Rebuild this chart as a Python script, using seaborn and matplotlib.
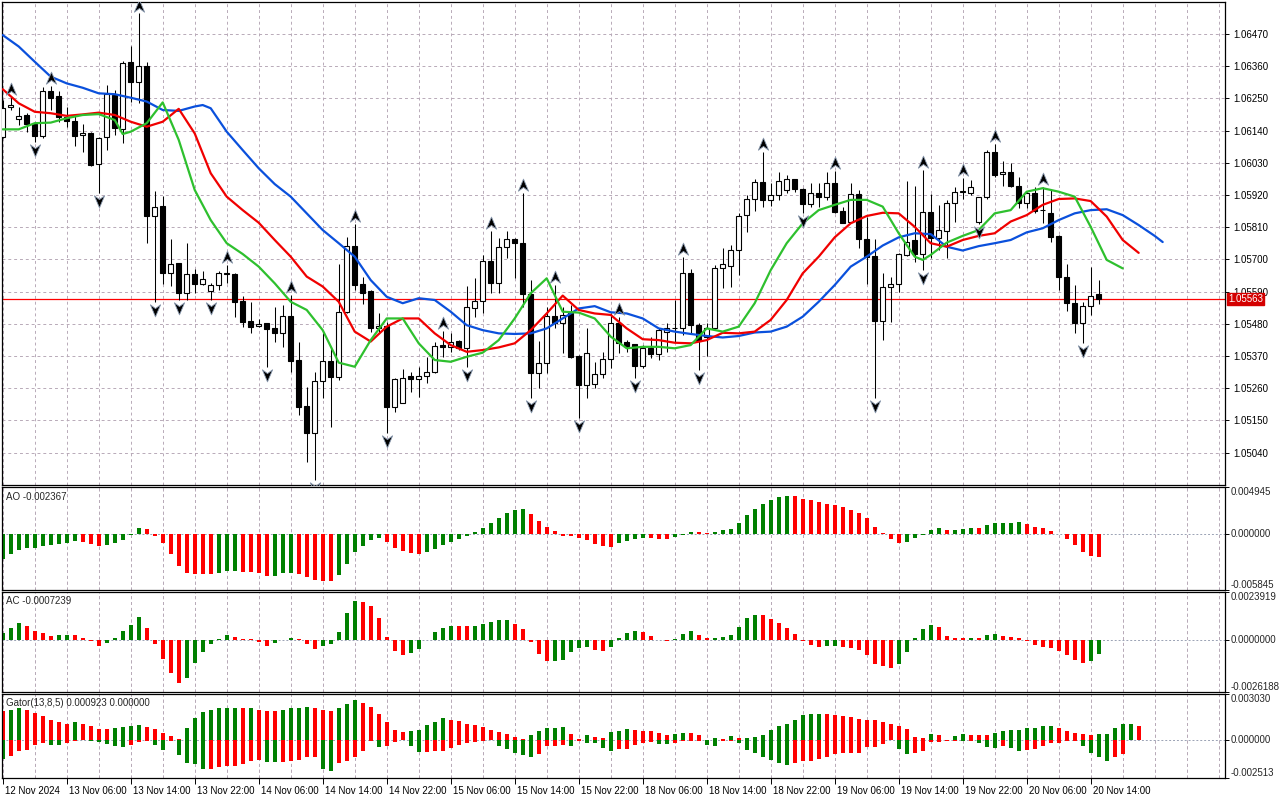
import numpy as np
import seaborn as sns
import matplotlib.pyplot as plt
from matplotlib.path import Path
import matplotlib.transforms as mtransforms

# ---- candles (EURUSD H1) ----
opens = [1.06119, 1.06219, 1.06179, 1.06193, 1.06161, 1.06122, 1.06275, 1.06258, 1.06187, 1.06174,
         1.06125, 1.06133, 1.06024, 1.06117, 1.06261, 1.06144, 1.06375, 1.06305, 1.06360, 1.05849,
         1.05882, 1.05654, 1.05686, 1.05584, 1.05649, 1.05614, 1.05593, 1.05612, 1.05652, 1.05650,
         1.05558, 1.05489, 1.05472, 1.05481, 1.05464, 1.05447, 1.05506, 1.05356, 1.05199, 1.05105,
         1.05284, 1.05352, 1.05299, 1.05521, 1.05745, 1.05616, 1.05593, 1.05464, 1.05472, 1.05196,
         1.05210, 1.05301, 1.05290, 1.05302, 1.05314, 1.05407, 1.05401, 1.05421, 1.05396, 1.05532,
         1.05559, 1.05694, 1.05618, 1.05741, 1.05769, 1.05755, 1.05581, 1.05310, 1.05347, 1.05506,
         1.05481, 1.05515, 1.05370, 1.05271, 1.05274, 1.05307, 1.05358, 1.05481, 1.05419, 1.05409,
         1.05337, 1.05398, 1.05376, 1.05453, 1.05464, 1.05464, 1.05654, 1.05475, 1.05436, 1.05464,
         1.05671, 1.05678, 1.05732, 1.05851, 1.05905, 1.05965, 1.05903, 1.05920, 1.05937, 1.05973,
         1.05939, 1.05889, 1.05925, 1.05912, 1.05962, 1.05866, 1.05829, 1.05922, 1.05769, 1.05711,
         1.05490, 1.05604, 1.05614, 1.05715, 1.05766, 1.05718, 1.05861, 1.05772, 1.05798, 1.05891,
         1.05930, 1.05928, 1.05829, 1.05912, 1.06066, 1.05991, 1.05997, 1.05952, 1.05891, 1.05925,
         1.05868, 1.05857, 1.05780, 1.05638, 1.05550, 1.05481, 1.05540, 1.05580]
highs = [1.06244, 1.06256, 1.06219, 1.06199, 1.06170, 1.06288, 1.06292, 1.06276, 1.06219, 1.06193,
         1.06162, 1.06136, 1.06118, 1.06296, 1.06278, 1.06378, 1.06429, 1.06540, 1.06375, 1.05933,
         1.05916, 1.05769, 1.05689, 1.05755, 1.05666, 1.05661, 1.05620, 1.05661, 1.05681, 1.05652,
         1.05575, 1.05555, 1.05495, 1.05483, 1.05538, 1.05544, 1.05578, 1.05419, 1.05263, 1.05316,
         1.05449, 1.05401, 1.05683, 1.05775, 1.05821, 1.05638, 1.05595, 1.05515, 1.05487, 1.05293,
         1.05324, 1.05316, 1.05333, 1.05367, 1.05419, 1.05455, 1.05449, 1.05424, 1.05609, 1.05635,
         1.05715, 1.05798, 1.05772, 1.05797, 1.05772, 1.05928, 1.05629, 1.05422, 1.05538, 1.05612,
         1.05538, 1.05544, 1.05373, 1.05464, 1.05350, 1.05384, 1.05518, 1.05504, 1.05424, 1.05411,
         1.05407, 1.05436, 1.05464, 1.05481, 1.05561, 1.05709, 1.05666, 1.05481, 1.05481, 1.05681,
         1.05737, 1.05749, 1.05857, 1.05920, 1.05973, 1.06068, 1.05960, 1.05999, 1.05988, 1.05976,
         1.05943, 1.05960, 1.05962, 1.05999, 1.06002, 1.05880, 1.05962, 1.05937, 1.05846, 1.05768,
         1.05652, 1.05641, 1.05723, 1.05968, 1.05950, 1.06005, 1.05923, 1.05886, 1.05903, 1.05946,
         1.05977, 1.05971, 1.05914, 1.06073, 1.06094, 1.06036, 1.06028, 1.05982, 1.05931, 1.05946,
         1.05948, 1.05937, 1.05783, 1.05684, 1.05612, 1.05555, 1.05675, 1.05629]
lows = [1.06113, 1.06210, 1.06159, 1.06136, 1.06102, 1.06113, 1.06210, 1.06170, 1.06153, 1.06088,
        1.06068, 1.06020, 1.05925, 1.06073, 1.06125, 1.06096, 1.06239, 1.06233, 1.05757, 1.05555,
        1.05616, 1.05609, 1.05561, 1.05561, 1.05584, 1.05612, 1.05561, 1.05595, 1.05618, 1.05504,
        1.05468, 1.05449, 1.05468, 1.05333, 1.05419, 1.05401, 1.05316, 1.05168, 1.05009, 1.04946,
        1.05227, 1.05128, 1.05288, 1.05515, 1.05595, 1.05547, 1.05453, 1.05447, 1.05105, 1.05179,
        1.05208, 1.05248, 1.05231, 1.05276, 1.05313, 1.05367, 1.05384, 1.05390, 1.05333, 1.05502,
        1.05518, 1.05584, 1.05584, 1.05703, 1.05635, 1.05538, 1.05225, 1.05259, 1.05310, 1.05464,
        1.05381, 1.05362, 1.05157, 1.05225, 1.05259, 1.05296, 1.05327, 1.05381, 1.05384, 1.05293,
        1.05327, 1.05362, 1.05356, 1.05384, 1.05419, 1.05441, 1.05447, 1.05322, 1.05370, 1.05458,
        1.05601, 1.05604, 1.05646, 1.05794, 1.05866, 1.05880, 1.05882, 1.05903, 1.05928, 1.05931,
        1.05857, 1.05880, 1.05880, 1.05903, 1.05857, 1.05823, 1.05825, 1.05737, 1.05616, 1.05225,
        1.05424, 1.05487, 1.05589, 1.05711, 1.05692, 1.05663, 1.05703, 1.05732, 1.05703, 1.05829,
        1.05905, 1.05920, 1.05821, 1.05905, 1.05982, 1.05950, 1.05948, 1.05874, 1.05874, 1.05857,
        1.05825, 1.05760, 1.05595, 1.05525, 1.05449, 1.05415, 1.05510, 1.05547]
closes = [1.06216, 1.06227, 1.06190, 1.06161, 1.06122, 1.06275, 1.06252, 1.06185, 1.06174, 1.06122,
          1.06130, 1.06022, 1.06116, 1.06265, 1.06147, 1.06370, 1.06307, 1.06360, 1.05849, 1.05880,
          1.05654, 1.05683, 1.05584, 1.05649, 1.05614, 1.05632, 1.05612, 1.05652, 1.05649, 1.05555,
          1.05487, 1.05470, 1.05479, 1.05462, 1.05447, 1.05506, 1.05354, 1.05196, 1.05105, 1.05284,
          1.05352, 1.05299, 1.05521, 1.05745, 1.05612, 1.05584, 1.05464, 1.05472, 1.05196, 1.05290,
          1.05293, 1.05290, 1.05301, 1.05314, 1.05405, 1.05399, 1.05419, 1.05396, 1.05536, 1.05559,
          1.05695, 1.05618, 1.05741, 1.05768, 1.05755, 1.05581, 1.05310, 1.05345, 1.05506, 1.05483,
          1.05510, 1.05367, 1.05271, 1.05379, 1.05307, 1.05358, 1.05481, 1.05415, 1.05405, 1.05335,
          1.05398, 1.05375, 1.05458, 1.05464, 1.05466, 1.05654, 1.05475, 1.05422, 1.05464, 1.05672,
          1.05683, 1.05732, 1.05849, 1.05905, 1.05965, 1.05903, 1.05919, 1.05969, 1.05973, 1.05939,
          1.05889, 1.05925, 1.05912, 1.05962, 1.05863, 1.05825, 1.05922, 1.05768, 1.05709, 1.05490,
          1.05604, 1.05614, 1.05717, 1.05760, 1.05718, 1.05861, 1.05772, 1.05800, 1.05891, 1.05931,
          1.05932, 1.05948, 1.05912, 1.06068, 1.05988, 1.05997, 1.05950, 1.05891, 1.05925, 1.05866,
          1.05867, 1.05777, 1.05638, 1.05550, 1.05481, 1.05540, 1.05576, 1.05563]

# ---- alligator (bar index -> price) ----
jaw_x = [0, 2, 4, 6, 8, 10, 12, 14, 16, 18, 20, 22, 24, 25, 26, 28, 30, 32, 34, 36, 38, 40, 42, 44,
         46, 48, 50, 52, 54, 56, 58, 60, 62, 64, 66, 68, 70, 72, 74, 76, 78, 80, 82, 84, 86, 88,
         90, 92, 94, 96, 98, 100, 102, 104, 106, 108, 110, 112, 114, 116, 118, 120, 122, 124,
         126, 128, 130, 132, 134, 136, 138, 140, 142, 144, 145]
jaw_y = [1.06466, 1.06427, 1.06375, 1.06324, 1.06301, 1.06286, 1.06267, 1.06264, 1.06252, 1.06239,
         1.06210, 1.06207, 1.06222, 1.06227, 1.06216, 1.06136, 1.06073, 1.06011, 1.05957, 1.05914,
         1.05857, 1.05800, 1.05755, 1.05709, 1.05629, 1.05572, 1.05550, 1.05567, 1.05561, 1.05521,
         1.05475, 1.05458, 1.05447, 1.05445, 1.05447, 1.05464, 1.05498, 1.05532, 1.05540, 1.05519,
         1.05515, 1.05498, 1.05464, 1.05453, 1.05445, 1.05438, 1.05433, 1.05438, 1.05450, 1.05453,
         1.05470, 1.05504, 1.05555, 1.05612, 1.05675, 1.05709, 1.05747, 1.05775, 1.05789, 1.05786,
         1.05743, 1.05730, 1.05745, 1.05755, 1.05766, 1.05792, 1.05806, 1.05834, 1.05857, 1.05868,
         1.05871, 1.05851, 1.05817, 1.05780, 1.05759]
teeth_x = list(range(0, 143, 2))
teeth_y = [1.06281, 1.06233, 1.06204, 1.06199, 1.06190, 1.06195, 1.06201, 1.06193, 1.06170, 1.06153,
           1.06170, 1.06214, 1.06130, 1.05994, 1.05914, 1.05868, 1.05825, 1.05766, 1.05709, 1.05641,
           1.05607, 1.05555, 1.05453, 1.05419, 1.05470, 1.05498, 1.05498, 1.05447, 1.05407, 1.05384,
           1.05390, 1.05399, 1.05413, 1.05458, 1.05515, 1.05576, 1.05527, 1.05515, 1.05510, 1.05464,
           1.05427, 1.05424, 1.05415, 1.05413, 1.05424, 1.05449, 1.05447, 1.05453, 1.05493, 1.05561,
           1.05652, 1.05709, 1.05775, 1.05823, 1.05848, 1.05859, 1.05857, 1.05811, 1.05755, 1.05743,
           1.05766, 1.05780, 1.05789, 1.05829, 1.05851, 1.05886, 1.05906, 1.05908, 1.05899, 1.05846,
           1.05766, 1.05722]
lips_x = [0, 2, 4, 6, 8, 10, 12, 14, 15, 16, 18, 20, 22, 24, 26, 28, 30, 32, 34, 36, 38, 40, 42,
          44, 46, 48, 50, 52, 54, 56, 58, 60, 62, 64, 66, 68, 70, 72, 74, 76, 78, 80, 82, 84, 86,
          88, 90, 92, 94, 96, 98, 100, 102, 104, 106, 108, 110, 112, 114, 115, 116, 118, 120, 122,
          124, 126, 128, 130, 132, 134, 136, 138, 140]
lips_y = [1.06144, 1.06144, 1.06165, 1.06167, 1.06182, 1.06193, 1.06196, 1.06176, 1.06128, 1.06136,
          1.06165, 1.06236, 1.06108, 1.05937, 1.05834, 1.05755, 1.05718, 1.05675, 1.05618, 1.05555,
          1.05527, 1.05458, 1.05347, 1.05333, 1.05424, 1.05498, 1.05498, 1.05413, 1.05356, 1.05350,
          1.05367, 1.05381, 1.05424, 1.05498, 1.05584, 1.05635, 1.05521, 1.05518, 1.05498, 1.05436,
          1.05396, 1.05401, 1.05401, 1.05396, 1.05407, 1.05464, 1.05453, 1.05470, 1.05550, 1.05663,
          1.05755, 1.05823, 1.05868, 1.05886, 1.05903, 1.05903, 1.05880, 1.05789, 1.05709, 1.05698,
          1.05715, 1.05757, 1.05780, 1.05800, 1.05857, 1.05868, 1.05931, 1.05943, 1.05931, 1.05914,
          1.05811, 1.05698, 1.05669]

fractal_up = [1, 6, 17, 28, 36, 44, 55, 61, 65, 69, 77, 85, 95, 104, 115, 120, 124, 130]
fractal_down = [4, 12, 19, 22, 26, 33, 39, 48, 58, 66, 72, 79, 87, 100, 109, 115, 122, 135]

# ---- oscillators ----
ao = [-0.002548, -0.002059, -0.001640, -0.001431, -0.001396, -0.001222, -0.001117, -0.001047, -0.000907, -0.000698,
      -0.000803, -0.001012, -0.001222, -0.001117, -0.000907, -0.000593, -0.000035, 0.000663, 0.000558, -0.000140,
      -0.000907, -0.002059, -0.003316, -0.004014, -0.004118, -0.004153, -0.004171, -0.004014, -0.003839, -0.003804,
      -0.003944, -0.003961, -0.004048, -0.004363, -0.004328, -0.004083, -0.004014, -0.004153, -0.004467, -0.004746,
      -0.004851, -0.004886, -0.004258, -0.003106, -0.001815, -0.001222, -0.000593, -0.000349, -0.000768, -0.001431,
      -0.001745, -0.001954, -0.002059, -0.001815, -0.001536, -0.001117, -0.000768, -0.000454, -0.000175, 0.000244,
      0.000663, 0.001222, 0.001710, 0.002199, 0.002513, 0.002652, 0.002129, 0.001431, 0.000768, 0.000349,
      -0.000140, -0.000175, -0.000384, -0.000593, -0.001012, -0.001222, -0.001326, -0.000907, -0.000698, -0.000489,
      -0.000384, -0.000401, -0.000489, -0.000506, -0.000244, -0.000035, 0.000244, 0.000227, 0.000105, 0.000244,
      0.000454, 0.000558, 0.001187, 0.002024, 0.002652, 0.003176, 0.003595, 0.003909, 0.004014, 0.003996,
      0.003734, 0.003630, 0.003420, 0.003176, 0.003071, 0.002897, 0.002548, 0.002234, 0.001710, 0.000768,
      0.000105, -0.000454, -0.000873, -0.000838, -0.000349, -0.000035, 0.000454, 0.000663, 0.000454, 0.000471,
      0.000558, 0.000663, 0.000646, 0.000977, 0.001187, 0.001204, 0.001222, 0.001291, 0.001082, 0.000768,
      0.000663, 0.000349, -0.000017, -0.000489, -0.001117, -0.001850, -0.002269, -0.002367]
ac = [0.000351, 0.000601, 0.000818, 0.000701, 0.000451, 0.000317, 0.000200, 0.000251, 0.000259, 0.000250,
      0.000084, -0.000084, -0.000334, -0.000184, 0.000100, 0.000418, 0.000752, 0.001119, 0.000601, -0.000234,
      -0.000952, -0.001687, -0.002188, -0.001937, -0.001186, -0.000635, -0.000234, 0.000050, 0.000217, 0.000117,
      0.000050, 0.000017, -0.000134, -0.000334, -0.000184, -0.000017, 0.000100, 0.000050, -0.000234, -0.000484,
      -0.000334, -0.000234, 0.000367, 0.001319, 0.001954, 0.001904, 0.001670, 0.001069, 0.000150, -0.000585,
      -0.000785, -0.000685, -0.000484, 0.000008, 0.000367, 0.000601, 0.000701, 0.000693, 0.000685, 0.000701,
      0.000768, 0.000902, 0.001002, 0.001010, 0.000802, 0.000551, -0.000134, -0.000735, -0.001086, -0.001069,
      -0.001035, -0.000635, -0.000434, -0.000384, -0.000534, -0.000585, -0.000384, 0.000100, 0.000351, 0.000451,
      0.000401, 0.000200, -0.000017, -0.000084, 0.000050, 0.000301, 0.000451, 0.000251, 0.000100, 0.000109,
      0.000150, 0.000251, 0.000651, 0.001102, 0.001253, 0.001236, 0.001052, 0.000852, 0.000601, 0.000301,
      -0.000084, -0.000284, -0.000384, -0.000334, -0.000326, -0.000384, -0.000434, -0.000534, -0.000785, -0.001236,
      -0.001336, -0.001436, -0.001236, -0.000635, 0.000100, 0.000551, 0.000752, 0.000651, 0.000200, 0.000100,
      0.000092, 0.000100, 0.000092, 0.000251, 0.000301, 0.000200, 0.000150, 0.000100, -0.000084, -0.000284,
      -0.000384, -0.000434, -0.000585, -0.000785, -0.001035, -0.001186, -0.001086, -0.0007239]
gator_up = [0.001918, 0.001962, 0.002074, 0.001962, 0.001762, 0.001561, 0.001338, 0.001160, 0.001070, 0.001160,
            0.001026, 0.000892, 0.000691, 0.000688, 0.000781, 0.000825, 0.000914, 0.000959, 0.000847, 0.000714,
            0.000424, 0.000245, 0.000089, 0.000803, 0.001450, 0.001829, 0.001962, 0.002096, 0.002100, 0.002104,
            0.002098, 0.002102, 0.002007, 0.001940, 0.001935, 0.001942, 0.002096, 0.002099, 0.002163, 0.002096,
            0.001962, 0.001918, 0.002074, 0.002364, 0.002609, 0.002408, 0.002185, 0.001695, 0.001204, 0.000669,
            0.000491, 0.000558, 0.000669, 0.000981, 0.001204, 0.001427, 0.001338, 0.001227, 0.001070, 0.001004,
            0.000825, 0.000669, 0.000535, 0.000401, 0.000223, 0.000067, 0.000357, 0.000558, 0.000758, 0.000760,
            0.000825, 0.000401, 0.000045, 0.000357, 0.000223, 0.000134, 0.000491, 0.000558, 0.000691, 0.000624,
            0.000620, 0.000558, 0.000446, 0.000335, 0.000401, 0.000446, 0.000440, 0.000357, 0.000022, 0.000134,
            0.000045, 0.000290, 0.000100, 0.000150, 0.000200, 0.000335, 0.000624, 0.000892, 0.001070, 0.001338,
            0.001628, 0.001695, 0.001700, 0.001690, 0.001628, 0.001583, 0.001516, 0.001405, 0.001338, 0.001330,
            0.001182, 0.001026, 0.000937, 0.000691, 0.000178, 0.000134, 0.000401, 0.000357, 0.000010, 0.000245,
            0.000401, 0.000357, 0.000350, 0.000340, 0.000446, 0.000558, 0.000669, 0.000675, 0.000803, 0.000810,
            0.000892, 0.000900, 0.000781, 0.000580, 0.000446, 0.000401, 0.000335, 0.000380, 0.000401, 0.000781,
            0.001026, 0.001030, 0.000923]
gator_down = [-0.001271, -0.001093, -0.000758, -0.000647, -0.000335, -0.000223, -0.000312, -0.000357, -0.000223, -0.000045,
              -0.000022, -0.000067, -0.000156, -0.000290, -0.000379, -0.000491, -0.000312, -0.000134, -0.000067, -0.000357,
              -0.000647, -0.000089, -0.001026, -0.001494, -0.001606, -0.001896, -0.001890, -0.001784, -0.001717, -0.001695,
              -0.001561, -0.001383, -0.001338, -0.001450, -0.001461, -0.001450, -0.001383, -0.001293, -0.001160, -0.001155,
              -0.001896, -0.002052, -0.001494, -0.001383, -0.001160, -0.000714, -0.000045, -0.000491, -0.000424, -0.000156,
              -0.000022, -0.000379, -0.000825, -0.000820, -0.000714, -0.000710, -0.000558, -0.000335, -0.000201, -0.000112,
              -0.000045, -0.000011, -0.000379, -0.000624, -0.000892, -0.000981, -0.001115, -0.000937, -0.000379, -0.000375,
              -0.000312, -0.000379, -0.000089, -0.000223, -0.000234, -0.000558, -0.000714, -0.000624, -0.000620, -0.000335,
              -0.000201, -0.000156, -0.000268, -0.000279, -0.000223, -0.000089, -0.000045, -0.000040, -0.000335, -0.000424,
              -0.000089, -0.000045, -0.000223, -0.000647, -0.000847, -0.001160, -0.001316, -0.001539, -0.001650, -0.001494,
              -0.001383, -0.001380, -0.001271, -0.001160, -0.000937, -0.000892, -0.000890, -0.000888, -0.000491, -0.000446,
              -0.000268, -0.000022, -0.000624, -0.000937, -0.000892, -0.000714, -0.000156, -0.000150, -0.000089, -0.000045,
              -0.000089, -0.000045, -0.000201, -0.000491, -0.000558, -0.000424, -0.000558, -0.000758, -0.000669, -0.000602,
              -0.000424, -0.000201, -0.000195, -0.000089, -0.000045, -0.000379, -0.000847, -0.001115, -0.001383, -0.001160,
              -0.000937]

price_ticks = [1.06470, 1.06360, 1.06250, 1.06140, 1.06030, 1.05920, 1.05810,
               1.05700, 1.05590, 1.05480, 1.05370, 1.05260, 1.05150, 1.05040]
date_labels = ["12 Nov 2024", "13 Nov 06:00", "13 Nov 14:00", "13 Nov 22:00", "14 Nov 06:00",
               "14 Nov 14:00", "14 Nov 22:00", "15 Nov 06:00", "15 Nov 14:00", "15 Nov 22:00",
               "18 Nov 06:00", "18 Nov 14:00", "18 Nov 22:00", "19 Nov 06:00", "19 Nov 14:00",
               "19 Nov 22:00", "20 Nov 06:00", "20 Nov 14:00"]

GREEN = '#008000'
RED = '#ff0000'
GRID = '#b8aab8'
X_MIN, X_MAX = -0.09, 152.79

sns.set_theme(style="white")
plt.rcParams['font.family'] = ['Liberation Sans', 'DejaVu Sans']

o, h, l, c = (np.array(a) for a in (opens, highs, lows, closes))
idx = np.arange(len(o))

fig = plt.figure(figsize=(12.8, 8), dpi=100)


def add_panel(top_px, bottom_px):
    return fig.add_axes([2 / 1280, 1 - bottom_px / 800, 1223 / 1280, (bottom_px - top_px) / 800])


def style_panel(ax):
    ax.set_facecolor('white')
    for s in ax.spines.values():
        s.set_visible(True)
        s.set_color('black')
        s.set_linewidth(0.9)
    for k in range(0, 153, 4):
        ax.axvline(k, color=GRID, lw=0.7, dashes=(3, 3), zorder=0)
    ax.yaxis.tick_right()
    ax.tick_params(axis='y', right=True, left=False, length=3, width=0.7, pad=3,
                   labelsize=7, colors='black')
    ax.tick_params(axis='x', bottom=False, labelbottom=False)
    ax.set_xlabel('')
    ax.set_ylabel('')


ax_main = add_panel(2, 485)
ax_ao = add_panel(487, 590)
ax_ac = add_panel(592, 692)
ax_gt = add_panel(694, 778)

# ---- main price panel ----
style_panel(ax_main)
for p in price_ticks:
    ax_main.axhline(p, color=GRID, lw=0.7, dashes=(3, 3), zorder=0)
ax_main.axhline(c[-1], color=RED, lw=0.9, zorder=1.5)

ax_main.vlines(idx, l, h, color='black', lw=0.75, zorder=2)
body_low = np.minimum(o, c)
body_h = np.maximum(np.abs(c - o), 0.000012)
body_col = np.where(c >= o, 'white', 'black')
ax_main.bar(idx, body_h, bottom=body_low, width=0.56, color=body_col,
            edgecolor='black', linewidth=0.8, zorder=3)

sns.lineplot(x=jaw_x, y=jaw_y, color='#0a50dc', lw=1.6, ax=ax_main, zorder=4,
             estimator=None, sort=False)
sns.lineplot(x=teeth_x, y=teeth_y, color='#f00000', lw=1.6, ax=ax_main, zorder=4,
             estimator=None, sort=False)
sns.lineplot(x=lips_x, y=lips_y, color='#2ec02e', lw=1.6, ax=ax_main, zorder=4,
             estimator=None, sort=False)

arrow_up = Path([(0, 1), (0.8, -0.9), (0, -0.3), (-0.8, -0.9), (0, 1)],
                [Path.MOVETO, Path.LINETO, Path.LINETO, Path.LINETO, Path.CLOSEPOLY])
arrow_dn = Path([(0, -1), (0.8, 0.9), (0, 0.3), (-0.8, 0.9), (0, -1)],
                [Path.MOVETO, Path.LINETO, Path.LINETO, Path.LINETO, Path.CLOSEPOLY])
ax_main.scatter(fractal_up, h[fractal_up] + 0.00027, marker=arrow_up, s=85, c='black',
                edgecolors='#8a9ab0', linewidths=0.6, zorder=5, clip_on=True)
ax_main.scatter(fractal_down, l[fractal_down] - 0.00027, marker=arrow_dn, s=85, c='black',
                edgecolors='#8a9ab0', linewidths=0.6, zorder=5, clip_on=True)

ax_main.set_xlim(X_MIN, X_MAX)
ax_main.set_ylim(1.04929, 1.06579)
ax_main.set_yticks(price_ticks)
ax_main.set_yticklabels([f"{p:.5f}" for p in price_ticks])
ax_main.set_xticks([])
ax_main.set_xlabel('')
ax_main.set_ylabel('')

bt = mtransforms.blended_transform_factory(ax_main.transAxes, ax_main.transData)
ax_main.text(1.0025, c[-1], f"{c[-1]:.5f}", transform=bt, ha='left', va='center', fontsize=7,
             color='white', bbox=dict(boxstyle='square,pad=0.1', fc='#d40000', ec='#d40000'),
             zorder=6, clip_on=False)


# ---- oscillator panels ----
def trend(vals, first, use_abs=False):
    out = [first]
    for a, b in zip(vals[:-1], vals[1:]):
        if use_abs:
            out.append('up' if abs(b) > abs(a) else 'down')
        else:
            out.append('up' if b > a else 'down')
    return out


def hist(ax, vals, cols):
    sns.barplot(x=np.arange(len(vals)), y=vals, hue=cols, palette={'up': GREEN, 'down': RED},
                native_scale=True, dodge=False, errorbar=None, width=0.5, saturation=1,
                legend=False, linewidth=0, ax=ax)


def panel_scale(ax, lo, hi, labels, title):
    ax.axhline(0, color='#9aa2b4', lw=0.7, dashes=(2, 2), zorder=0.5)
    ax.set_xlim(X_MIN, X_MAX)
    ax.set_ylim(lo, hi)
    ax.set_yticks([lo, 0, hi])
    ax.tick_params(axis='y', labelright=False)
    tr = mtransforms.blended_transform_factory(ax.transAxes, ax.transData) + \
        mtransforms.ScaledTranslation(6 / 100, 0, fig.dpi_scale_trans)
    for val, lab, va in zip([hi, 0, lo], labels, ['top', 'center', 'bottom']):
        ax.text(1.0, val, lab, transform=tr, ha='left', va=va, fontsize=7, clip_on=False)
    ax.text(0.003, 0.955, title, transform=ax.transAxes, ha='left', va='top', fontsize=7)
    ax.set_xlabel('')
    ax.set_ylabel('')


style_panel(ax_ao)
hist(ax_ao, ao, trend(ao, 'up'))
style_panel(ax_ao)
panel_scale(ax_ao, -0.005845, 0.004945, ["0.004945", "0.000000", "-0.005845"], "AO -0.002367")
ax_ao.set_xticks([])

style_panel(ax_ac)
hist(ax_ac, ac, trend(ac, 'up'))
style_panel(ax_ac)
panel_scale(ax_ac, -0.0026188, 0.0023919, ["0.0023919", "0.0000000", "-0.0026188"],
            "AC -0.0007239")
ax_ac.set_xticks([])

style_panel(ax_gt)
hist(ax_gt, gator_up, trend(gator_up, 'down', use_abs=True))
hist(ax_gt, gator_down, trend(gator_down, 'up', use_abs=True))
style_panel(ax_gt)
panel_scale(ax_gt, -0.002513, 0.003030, ["0.003030", "0.000000", "-0.002513"],
            "Gator(13,8,5) 0.000923 0.000000")
ax_gt.set_xticks(list(range(0, 8 * len(date_labels), 8)))
ax_gt.set_xticklabels(date_labels, ha='left', fontsize=7)
ax_gt.tick_params(axis='x', bottom=True, labelbottom=True, length=4, width=0.7, pad=2,
                  colors='black')
shift = mtransforms.ScaledTranslation(2 / 100, 0, fig.dpi_scale_trans)
for lbl in ax_gt.get_xticklabels():
    lbl.set_transform(lbl.get_transform() + shift)

fig.savefig('out.png', dpi=100, facecolor='white')
plt.close(fig)
